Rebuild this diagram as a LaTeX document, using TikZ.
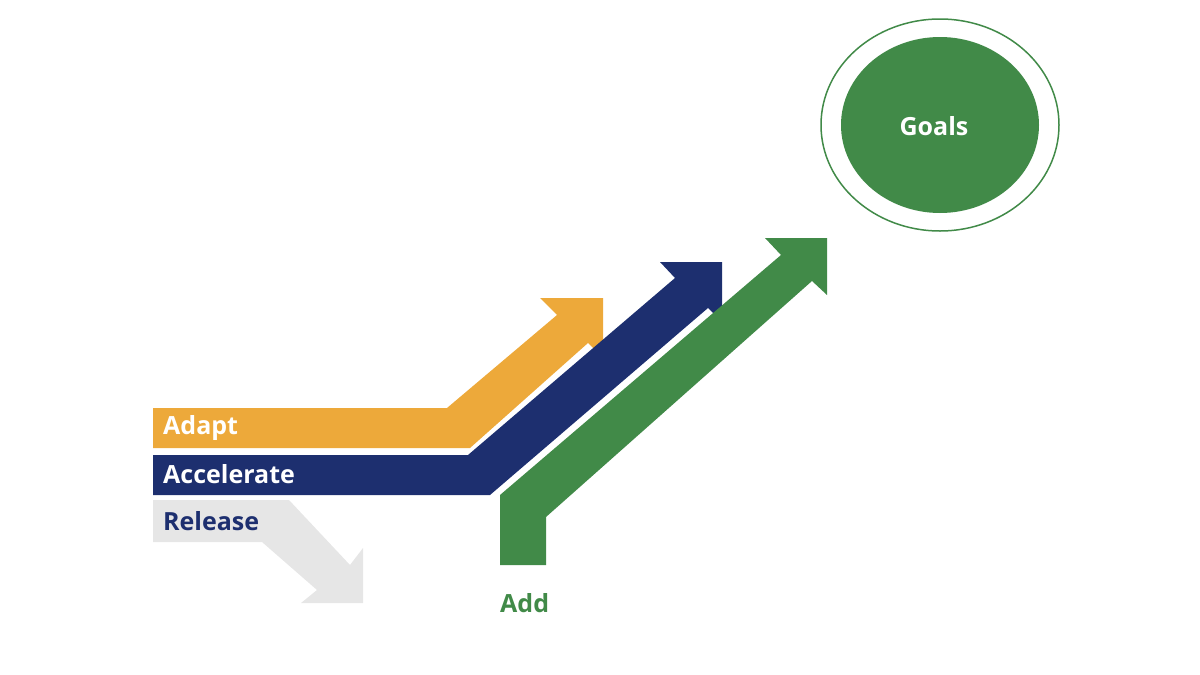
\documentclass[tikz,border=0pt]{standalone}
\usepackage{fontspec}
\setmainfont{Open Sans}
\definecolor{cOr}{HTML}{EDA93A}
\definecolor{cNv}{HTML}{1D2F6F}
\definecolor{cGr}{HTML}{418A48}
\definecolor{cGy}{HTML}{E6E6E6}
\begin{document}
\begin{tikzpicture}[x=1pt,y=-1pt,
  lbl/.style={font=\bfseries\fontsize{25}{28}\selectfont,anchor=west,inner sep=0}]
\useasboundingbox (0,0) rectangle (1200,675);
% orange
\fill[cOr] (153,408) -- (447,408) -- (557,315) -- (540,298) -- (603,298) -- (603,358) -- (588,343) -- (470,448) -- (153,448) -- cycle;
% navy
\fill[cNv] (153,455) -- (468,455) -- (675,278) -- (660,262) -- (722,262) -- (722,322) -- (708,308) -- (490,495) -- (153,495) -- cycle;
% green
\fill[cGr] (500,565) -- (500,495) -- (781,255) -- (765,238) -- (827,238) -- (827,295) -- (812,281) -- (546,517) -- (546,565) -- cycle;
% grey
\fill[cGy] (153,500) -- (289,500) -- (350,565) -- (363,548) -- (363,603) -- (301,603) -- (317,590) -- (262,542) -- (153,542) -- cycle;
% goals
\draw[cGr,line width=1.5pt] (940,125) ellipse [x radius=119,y radius=106];
\fill[cGr] (940,125) ellipse [x radius=99,y radius=88];
\node[font=\bfseries\fontsize{25}{28}\selectfont,text=white] (goals) at (934,126) {Goals};
\node[lbl,text=white] (adapt) at (163,428) {Adapt};
\node[lbl,text=white] (acc) at (163,474) {Accelerate};
\node[lbl,text=cNv] (rel) at (163,521) {Release};
\node[lbl,text=cGr] (add) at (500,603) {Add};
\end{tikzpicture}
\end{document}
